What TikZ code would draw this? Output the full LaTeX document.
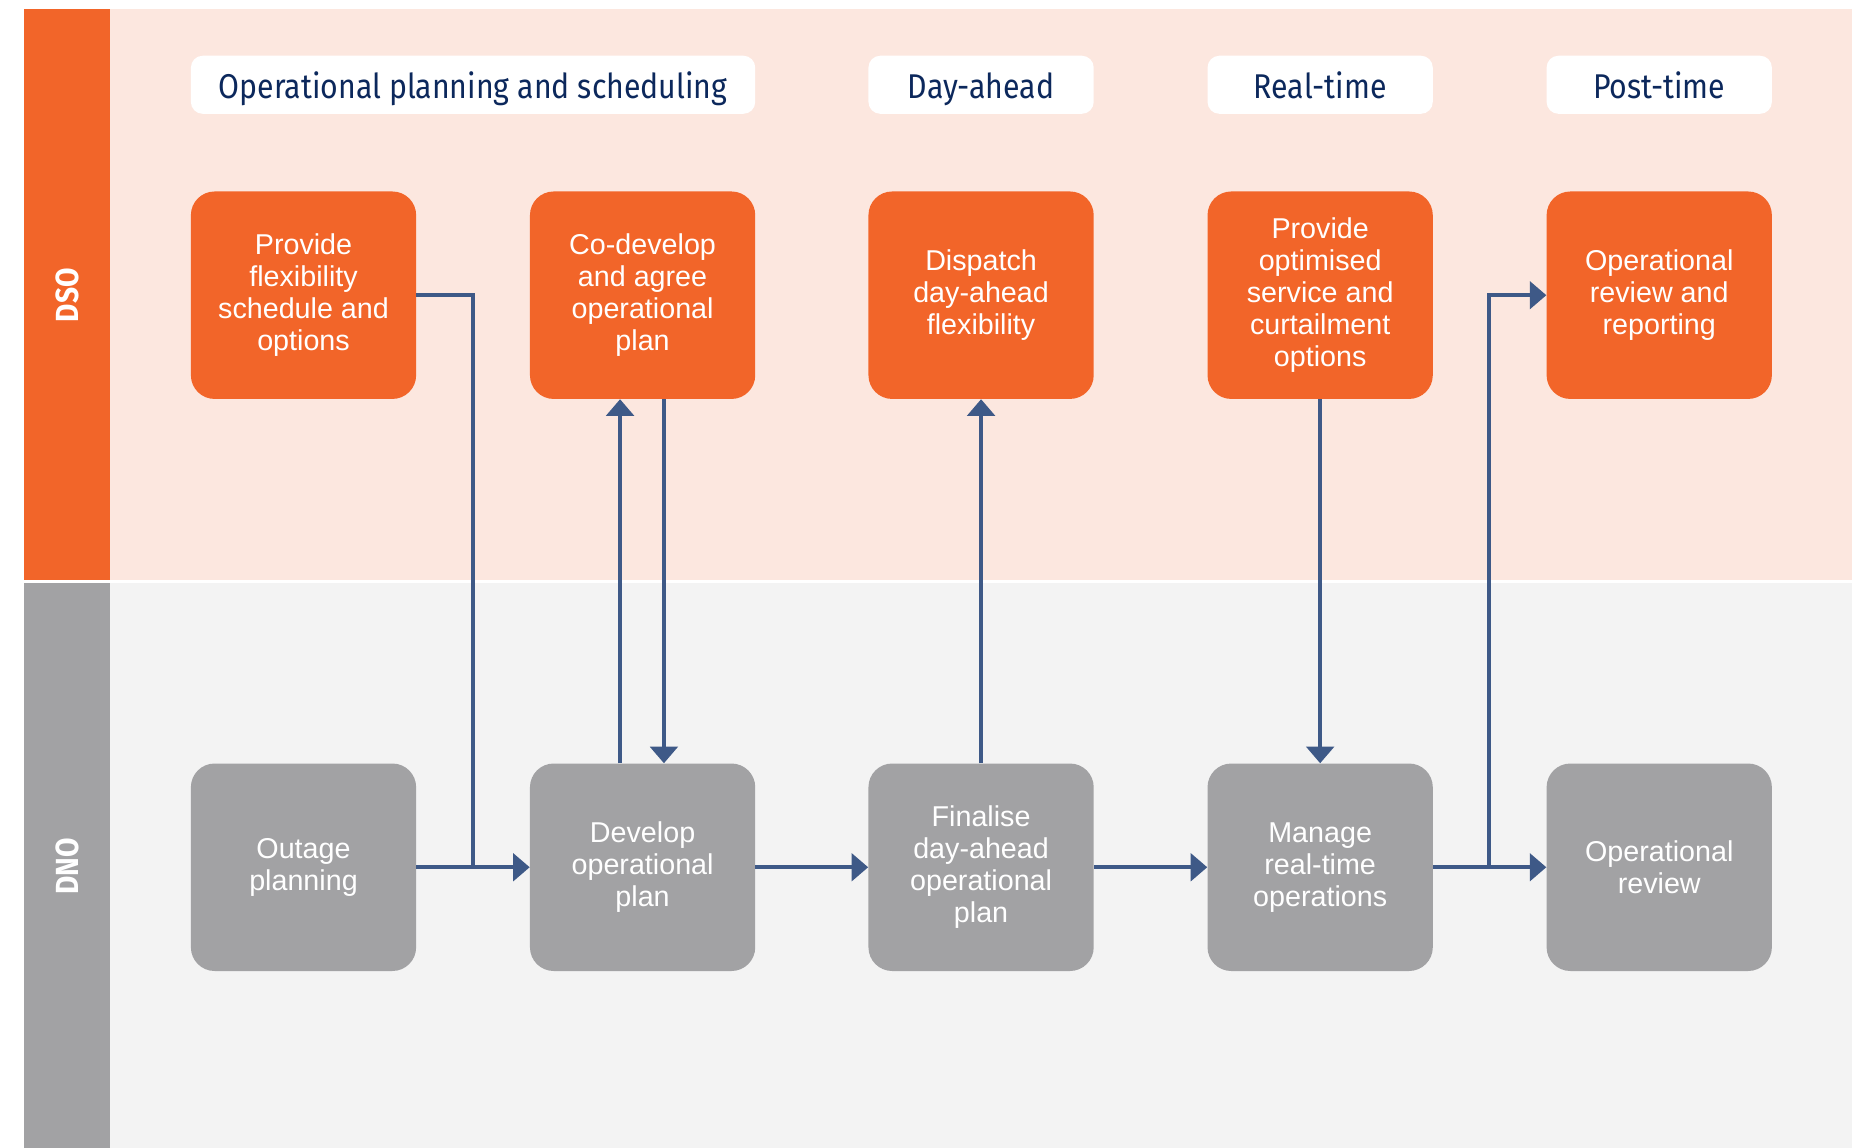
\documentclass[tikz,border=0pt]{standalone}
\usepackage{fontspec}
\setmainfont{Liberation Sans}
\newfontfamily\headfont[FakeStretch=0.88]{Fira Sans}
\usetikzlibrary{arrows.meta}
\definecolor{orng}{RGB}{242,101,41}
\definecolor{pinkbg}{RGB}{252,231,223}
\definecolor{grybox}{RGB}{162,162,164}
\definecolor{grybg}{RGB}{243,243,243}
\definecolor{navy}{RGB}{12,40,92}
\definecolor{arrowc}{RGB}{62,89,135}
\tikzset{
  procbox/.style={rounded corners=20pt, minimum width=190pt, minimum height=175pt,
    inner sep=0pt, align=center, text=white,
    font=\fontsize{24.2}{27}\selectfont},
  dsobox/.style={procbox, fill=orng},
  dnobox/.style={procbox, fill=grybox},
  phase/.style={rounded corners=10pt, fill=white, minimum height=49pt, inner sep=0pt,
    text height=25pt, text depth=2pt,
    text=navy, font=\headfont\fontsize{29}{32}\selectfont},
  lanelabel/.style={rotate=90, text=white, font=\headfont\bfseries\fontsize{27}{30}\selectfont},
  flow/.style={draw=arrowc, line width=3.5pt,
    -{Triangle[length=14pt,width=23pt]}},
  flowplain/.style={draw=arrowc, line width=3.5pt}
}
\begin{document}
\begin{tikzpicture}[x=1pt,y=-1pt]
\useasboundingbox (0,0) rectangle (1568,968);
% lanes
\fill[orng] (20,8) rectangle (93,489);
\fill[pinkbg] (93,8) rectangle (1562,489);
\fill[grybox] (20,492) rectangle (93,968);
\fill[grybg] (93,492) rectangle (1562,968);
\node[lanelabel] (dso) at (56.5,249) {DSO};
\node[lanelabel] (dno) at (56.5,731) {DNO};
% phases
\node[phase, minimum width=476pt] (h1) at (399,71.5) {Operational planning and scheduling};
\node[phase, minimum width=190pt] (h2) at (827.5,71.5) {Day-ahead};
\node[phase, minimum width=190pt] (h3) at (1113.5,71.5) {Real-time};
\node[phase, minimum width=190pt] (h4) at (1399.5,71.5) {Post-time};
% DSO boxes
\node[dsobox] (b1) at (256,249) {Provide\\flexibility\\schedule and\\options};
\node[dsobox] (b2) at (542,249) {Co-develop\\and agree\\operational\\plan};
\node[dsobox] (b3) at (827.5,249) {Dispatch\\day-ahead\\flexibility};
\node[dsobox] (b4) at (1113.5,249) {Provide\\optimised\\service and\\curtailment\\options};
\node[dsobox] (b5) at (1399.5,249) {Operational\\review and\\reporting};
% DNO boxes
\node[dnobox] (g1) at (256,731.5) {Outage\\planning};
\node[dnobox] (g2) at (542,731.5) {Develop\\operational\\plan};
\node[dnobox] (g3) at (827.5,731.5) {Finalise\\day-ahead\\operational\\plan};
\node[dnobox] (g4) at (1113.5,731.5) {Manage\\real-time\\operations};
\node[dnobox] (g5) at (1399.5,731.5) {Operational\\review};
% junctions
\coordinate (j1) at (399,731.5);
\coordinate (j2) at (1256,731.5);
% connectors
\draw[flowplain] (b1.east) -| (j1);
\draw[flow] (g1.east) -- (g2.west);
\draw[flow] ([xshift=-19pt]g2.north) -- ([xshift=-19pt]b2.south);
\draw[flow] ([xshift=18pt]b2.south) -- ([xshift=18pt]g2.north);
\draw[flow] (g2.east) -- (g3.west);
\draw[flow] (g3.north) -- (b3.south);
\draw[flow] (g3.east) -- (g4.west);
\draw[flow] (b4.south) -- (g4.north);
\draw[flow] (g4.east) -- (g5.west);
\draw[flow] (j2) |- (b5.west);
\end{tikzpicture}
\end{document}
